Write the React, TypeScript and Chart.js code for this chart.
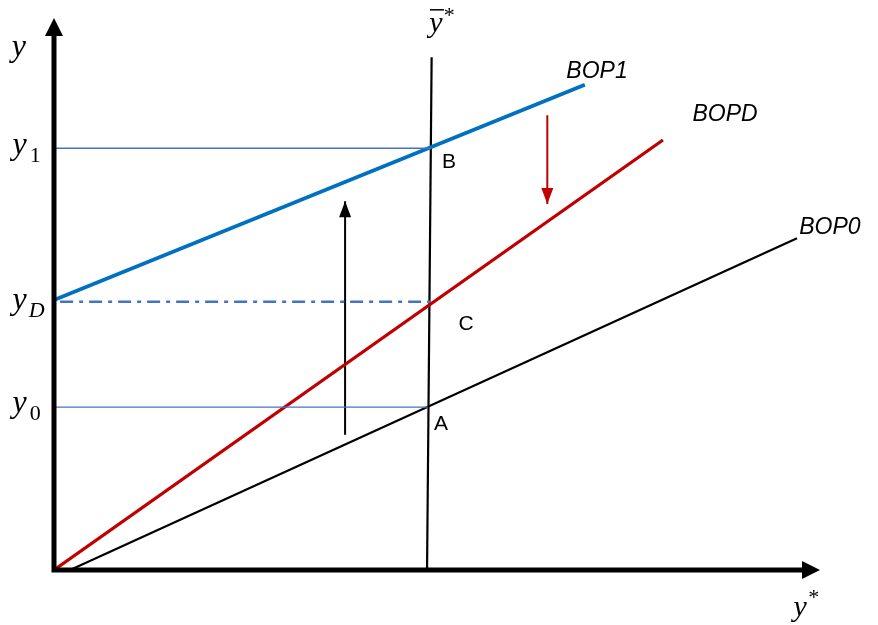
import React, { useEffect, useRef } from "react";
import { Chart, registerables } from "chart.js";
Chart.register(...registerables);

// Curves (data units: x 0..100 -> y*, y 0..100 -> y)
const bop0X = [2.1, 97.0];
const bop0Y = [0, 60.1];
const bopDX = [0, 79.5];
const bopDY = [0, 77.9];
const bop1X = [0, 69.3];
const bop1Y = [48.9, 87.9];
const ystarX = [48.7, 49.3];
const ystarY = [0, 92.9];
const y1LineX = [0, 49.2];
const y1Level = 76.4;
const yDLineX = [0.8, 49.1];
const yDLevel = 48.6;
const y0LineX = [0, 48.8];
const y0Level = 29.5;
const upArrowX = 38.0;
const upArrowY = [24.5, 68.8];
const downArrowX = 64.4;
const downArrowY = [82.4, 64.3];

const pts = (xs: number[], ys: number[]) => xs.map((x, i) => ({ x, y: ys[i] }));

type Lbl = { t: string; x: number; y: number; font: string; color?: string; bar?: boolean };
const labels: Lbl[] = [
  { t: "y", x: -4.6, y: 94.6, font: "italic 32px 'Liberation Serif'" },
  { t: "y", x: -4.5, y: 76.9, font: "italic 32px 'Liberation Serif'" },
  { t: "1", x: -2.45, y: 75.0, font: "22px 'Liberation Serif'" },
  { t: "y", x: -4.5, y: 48.8, font: "italic 32px 'Liberation Serif'" },
  { t: "D", x: -2.25, y: 46.9, font: "italic 22px 'Liberation Serif'" },
  { t: "y", x: -4.5, y: 30.1, font: "italic 32px 'Liberation Serif'" },
  { t: "0", x: -2.45, y: 28.3, font: "22px 'Liberation Serif'" },
  { t: "y", x: 49.87, y: 98.9, font: "italic 30px 'Liberation Serif'", bar: true },
  { t: "*", x: 51.6, y: 100.4, font: "22px 'Liberation Serif'" },
  { t: "y", x: 97.4, y: -6.9, font: "italic 30px 'Liberation Serif'" },
  { t: "*", x: 99.2, y: -5.2, font: "22px 'Liberation Serif'" },
  { t: "BOP1", x: 70.89, y: 90.22, font: "italic 23px 'Liberation Sans'" },
  { t: "BOPD", x: 87.6, y: 82.43, font: "italic 23px 'Liberation Sans'" },
  { t: "BOP0", x: 101.3, y: 61.96, font: "italic 23px 'Liberation Sans'" },
  { t: "B", x: 51.57, y: 73.91, font: "21px 'Liberation Sans'" },
  { t: "C", x: 53.79, y: 44.57, font: "21px 'Liberation Sans'" },
  { t: "A", x: 50.52, y: 26.45, font: "21px 'Liberation Sans'" },
];

const head = (ctx: CanvasRenderingContext2D, x: number, y: number, dx: number, dy: number, len: number, w: number, color: string) => {
  const L = Math.hypot(dx, dy);
  const ux = dx / L, uy = dy / L;
  const bx = x - ux * len, by = y - uy * len;
  ctx.beginPath();
  ctx.moveTo(x, y);
  ctx.lineTo(bx - uy * w / 2, by + ux * w / 2);
  ctx.lineTo(bx + uy * w / 2, by - ux * w / 2);
  ctx.closePath();
  ctx.fillStyle = color;
  ctx.fill();
};

const diagramPlugin = {
  id: "diagram",
  afterDatasetsDraw(chart: any) {
    const ctx = chart.ctx as CanvasRenderingContext2D;
    const xs = chart.scales.x, ys = chart.scales.y;
    ctx.save();
    // axes
    const ox = xs.getPixelForValue(0), oy = ys.getPixelForValue(0);
    const ty = ys.getPixelForValue(100), tx = xs.getPixelForValue(100);
    ctx.strokeStyle = "#000";
    ctx.lineWidth = 5;
    ctx.lineCap = "butt";
    ctx.beginPath();
    ctx.moveTo(ox, oy + 2.5);
    ctx.lineTo(ox, ty + 15);
    ctx.moveTo(ox - 2.5, oy);
    ctx.lineTo(tx - 15, oy);
    ctx.stroke();
    head(ctx, ox, ty, 0, -1, 18, 18, "#000");
    head(ctx, tx, oy, 1, 0, 18, 18, "#000");
    // thin arrow heads
    chart.data.datasets.forEach((ds: any, i: number) => {
      if (!ds.arrow) return;
      const meta = chart.getDatasetMeta(i);
      const p0 = meta.data[0], p1 = meta.data[meta.data.length - 1];
      head(ctx, p1.x, p1.y, p1.x - p0.x, p1.y - p0.y, 16, 12, ds.borderColor);
    });
    // labels
    ctx.textAlign = "center";
    ctx.textBaseline = "middle";
    labels.forEach((l) => {
      const px = xs.getPixelForValue(l.x), py = ys.getPixelForValue(l.y);
      ctx.font = l.font;
      ctx.fillStyle = l.color || "#000";
      ctx.fillText(l.t, px, py);
      if (l.bar) {
        ctx.fillRect(px - 6, py - 15, 14, 1.5);
      }
    });
    ctx.restore();
  },
};

export default function App() {
  const ref = useRef<HTMLCanvasElement>(null);
  useEffect(() => {
    if (!ref.current) return;
    const line = (data: any, color: string, width: number, extra: any = {}) => ({
      data,
      showLine: true,
      borderColor: color,
      backgroundColor: color,
      borderWidth: width,
      pointRadius: 0,
      pointHoverRadius: 0,
      fill: false,
      ...extra,
    });
    const chart = new Chart(ref.current, {
      type: "scatter",
      data: {
        datasets: [
          line(pts(y1LineX, [y1Level, y1Level]), "#4472C4", 1.3),
          line(pts(yDLineX, [yDLevel, yDLevel]), "#4472C4", 2.5, { borderDash: [13, 6, 4, 6] }),
          line(pts(y0LineX, [y0Level, y0Level]), "#4472C4", 1.3),
          line(pts(bop0X, bop0Y), "#000000", 2.2),
          line(pts(bopDX, bopDY), "#C00000", 3.2),
          line(pts(bop1X, bop1Y), "#0070C0", 3.8),
          line(pts(ystarX, ystarY), "#000000", 2.2),
          line(pts([upArrowX, upArrowX], [upArrowY[0], upArrowY[1] - 2]), "#000000", 2, { arrow: true }),
          line(pts([downArrowX, downArrowX], [downArrowY[0], downArrowY[1] + 2]), "#C00000", 2, { arrow: true }),
        ] as any,
      },
      options: {
        animation: false,
        responsive: false,
        maintainAspectRatio: false,
        layout: { padding: { left: 54, right: 58, top: 18, bottom: 55 } },
        plugins: { legend: { display: false }, tooltip: { enabled: false } },
        scales: {
          x: { type: "linear", min: 0, max: 100, display: false },
          y: { type: "linear", min: 0, max: 100, display: false },
        },
      },
      plugins: [diagramPlugin],
    });
    return () => chart.destroy();
  }, []);
  return (
    <div style={{ position: "fixed", left: 0, top: 0, width: 878, height: 625, background: "#fff" }}>
      <canvas ref={ref} width={878} height={625} style={{ width: 878, height: 625 }} />
    </div>
  );
}
